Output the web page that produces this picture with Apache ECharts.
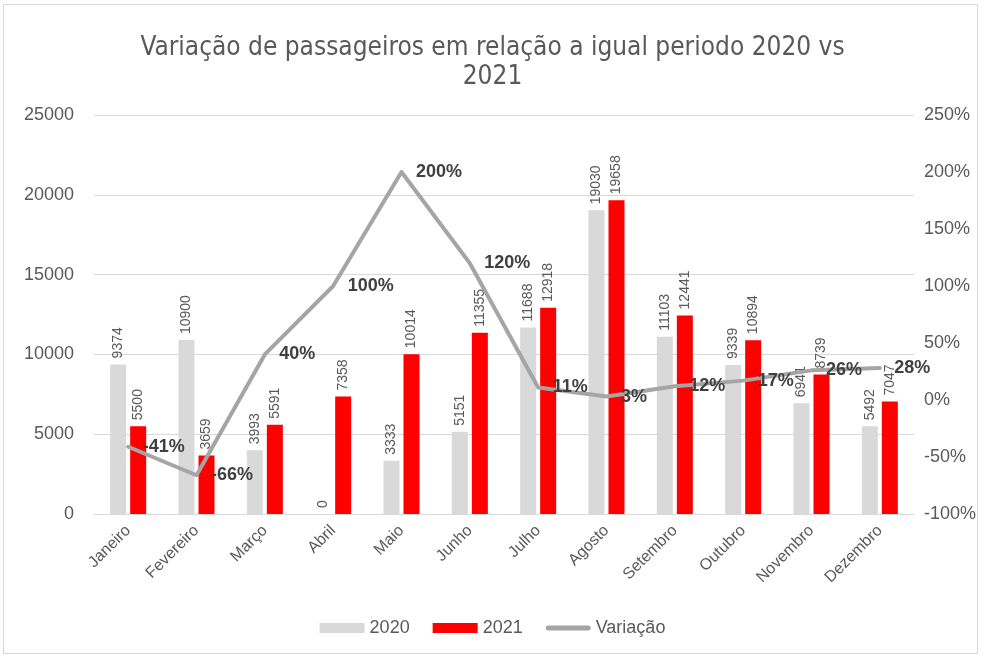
<!DOCTYPE html>
<html>
<head>
<meta charset="utf-8">
<script src="https://cdn.jsdelivr.net/npm/echarts@6/dist/echarts.min.js"></script>
<style>
  html, body { margin: 0; padding: 0; background: #fff; }
  #frame { position: absolute; left: 3px; top: 4px; width: 975px; height: 650px; border: 1px solid #d9d9d9; box-sizing: border-box; }
  #chart { position: absolute; left: 0; top: 0; width: 985px; height: 660px; }
</style>
</head>
<body>
<div id="frame"></div>
<div id="chart"></div>
<script>
var meses = ['Janeiro', 'Fevereiro', 'Março', 'Abril', 'Maio', 'Junho', 'Julho', 'Agosto', 'Setembro', 'Outubro', 'Novembro', 'Dezembro'];
var pass2020 = [9374, 10900, 3993, 0, 3333, 5151, 11688, 19030, 11103, 9339, 6941, 5492];
var pass2021 = [5500, 3659, 5591, 7358, 10014, 11355, 12918, 19658, 12441, 10894, 8739, 7047];
var variacao = [-41, -66, 40, 100, 200, 120, 11, 3, 12, 17, 26, 28];

var font = 'Liberation Sans';
var txt = '#595959';

var barLabel = {
    show: true,
    position: 'top',
    rotate: 90,
    align: 'left',
    verticalAlign: 'middle',
    distance: 6,
    color: txt,
    fontSize: 14,
    fontFamily: font
};

var chart = echarts.init(document.getElementById('chart'));
chart.setOption({
    animation: false,
    title: {
        text: 'Variação de passageiros em relação a igual periodo 2020 vs\n2021',
        left: 'center',
        top: 29,
        textStyle: { color: txt, fontSize: 26, fontWeight: 'normal', fontFamily: "'DejaVu Sans Condensed', 'Liberation Sans'", lineHeight: 29 }
    },
    legend: {
        bottom: 18,
        left: 'center',
        itemWidth: 45,
        itemHeight: 10,
        itemGap: 23,
        textStyle: { color: txt, fontSize: 18, fontFamily: font },
        data: [
            { name: '2020', icon: 'rect' },
            { name: '2021', icon: 'rect' },
            { name: 'Variação', icon: 'path://M2.5,0 L42.5,0 A2.5,2.5 0 0 1 42.5,5 L2.5,5 A2.5,2.5 0 0 1 2.5,0 Z', itemStyle: { color: '#a5a5a5' } }
        ]
    },
    grid: { left: 94, right: 71, top: 115, bottom: 146 },
    xAxis: {
        type: 'category',
        data: meses,
        axisLine: { lineStyle: { color: '#d9d9d9', width: 1 } },
        axisTick: { show: false },
        axisLabel: { rotate: 45, color: txt, fontSize: 16, fontFamily: font, margin: 14 }
    },
    yAxis: [{
        type: 'value',
        min: 0, max: 25000, interval: 5000,
        axisLine: { show: false },
        axisTick: { show: false },
        axisLabel: { color: txt, fontSize: 18, fontFamily: font, margin: 20, formatter: function (v) { return String(v); } },
        splitLine: { lineStyle: { color: '#d9d9d9', width: 1 } }
    }, {
        type: 'value',
        min: -100, max: 250, interval: 50,
        axisLine: { show: false },
        axisTick: { show: false },
        axisLabel: { color: txt, fontSize: 18, fontFamily: font, margin: 10, formatter: '{value}%' },
        splitLine: { show: false }
    }],
    series: [{
        name: '2020',
        type: 'bar',
        data: pass2020,
        barWidth: 16,
        barGap: '25%',
        itemStyle: { color: '#d9d9d9' },
        label: barLabel
    }, {
        name: '2021',
        type: 'bar',
        data: pass2021,
        barWidth: 16,
        itemStyle: { color: '#ff0000' },
        label: barLabel
    }, {
        name: 'Variação',
        type: 'line',
        yAxisIndex: 1,
        data: variacao,
        symbol: 'circle',
        symbolSize: 1,
        showSymbol: true,
        lineStyle: { color: '#a5a5a5', width: 4, cap: 'round', join: 'round' },
        itemStyle: { color: '#a5a5a5' },
        label: {
            show: true,
            position: 'right',
            distance: 14,
            formatter: '{c}%',
            color: '#404040',
            fontSize: 18,
            fontWeight: 'bold',
            fontFamily: font
        },
        z: 5
    }]
});
</script>
</body>
</html>
